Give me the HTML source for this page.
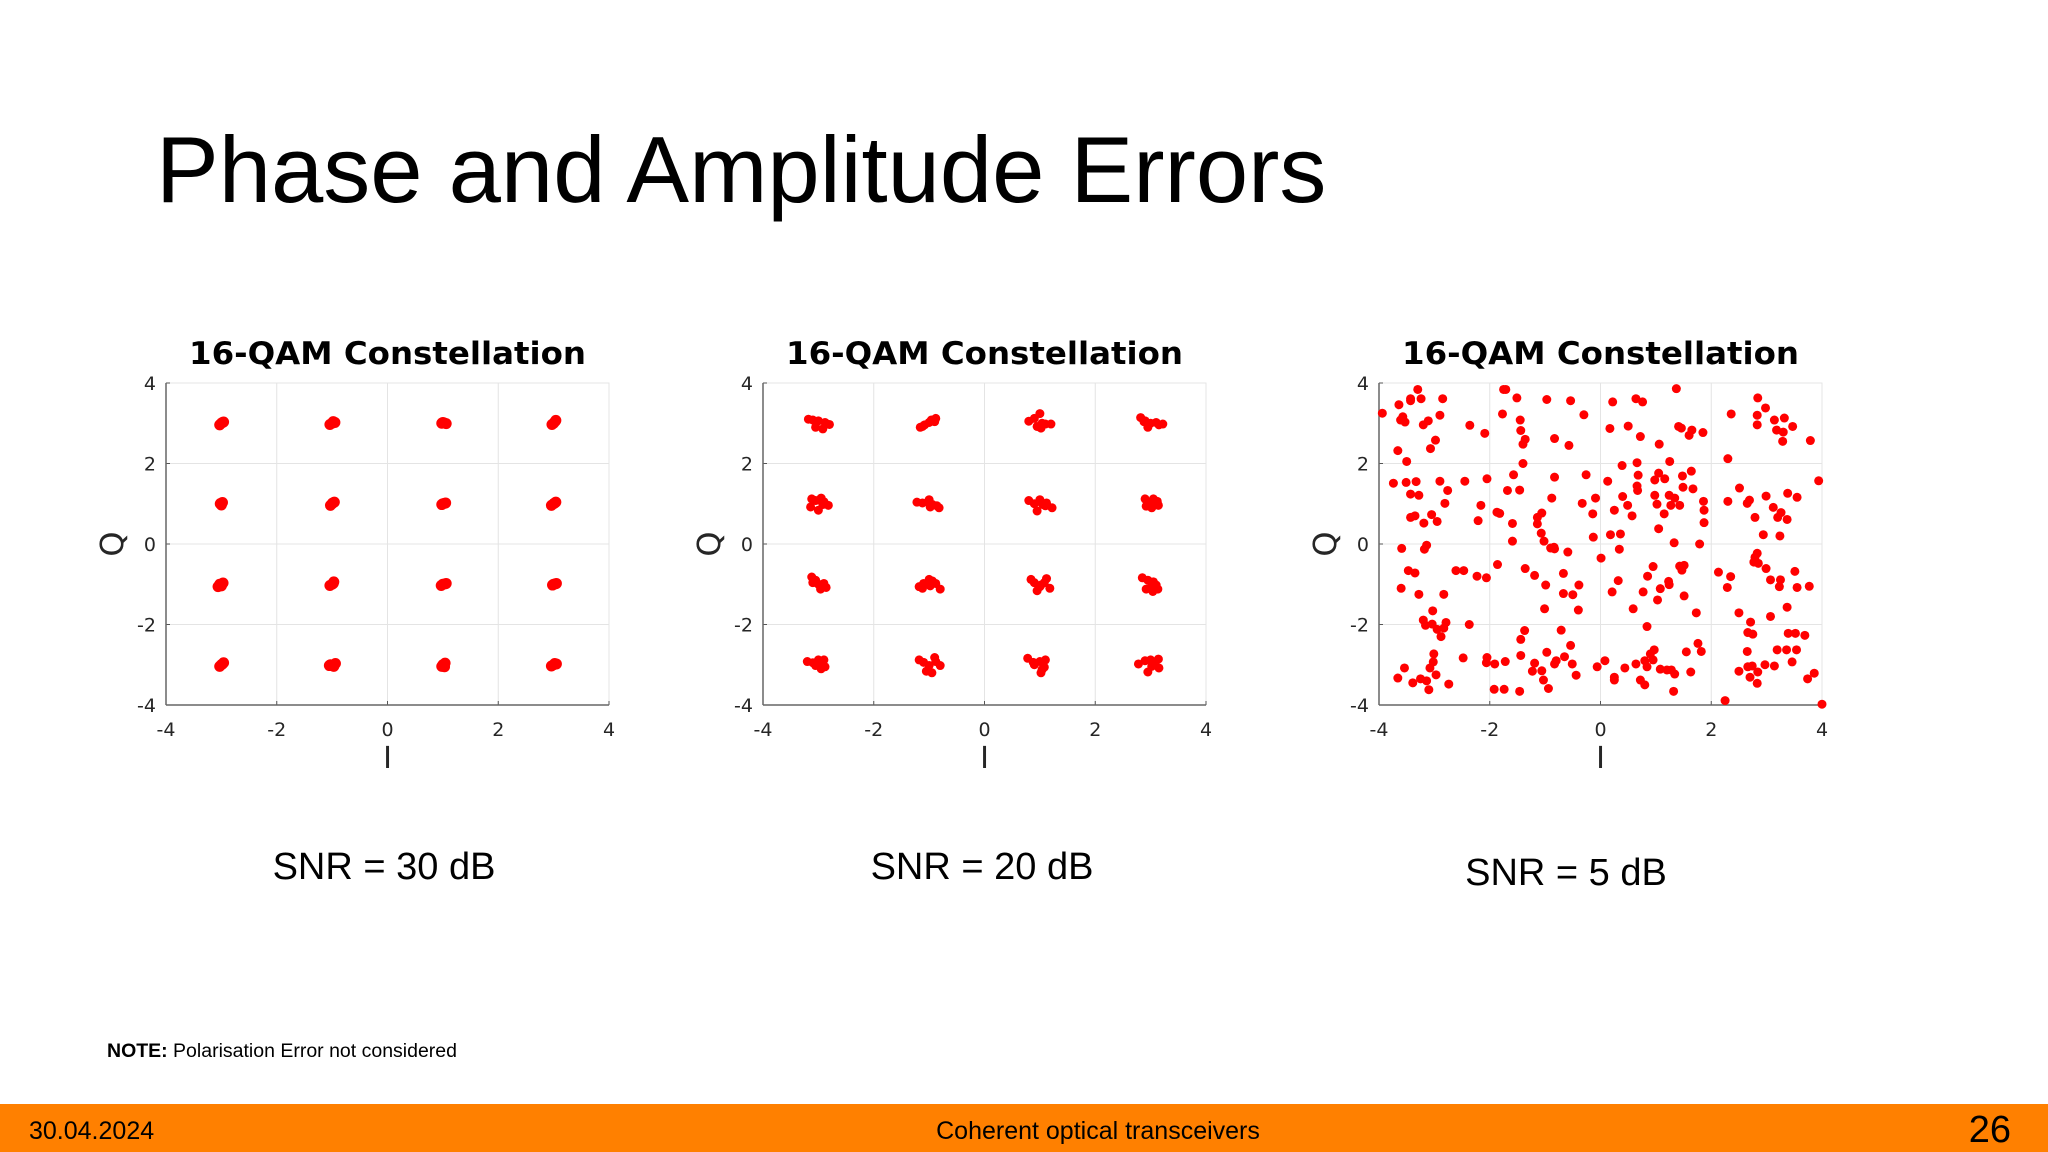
<!DOCTYPE html>
<html><head><meta charset="utf-8"><style>
html,body{margin:0;padding:0;background:#fff;}
svg{display:block;}
</style></head><body>
<svg id="page" width="2048" height="1152" viewBox="0 0 2048 1152" xmlns="http://www.w3.org/2000/svg">
<rect x="0" y="0" width="2048" height="1152" fill="#fff"/>
<text x="156" y="202" font-family="Liberation Sans, sans-serif" font-size="94" fill="#000">Phase and Amplitude Errors</text>
<g id="charts"></g>
<text x="384" y="879" text-anchor="middle" font-family="Liberation Sans, sans-serif" font-size="38" fill="#000">SNR = 30 dB</text>
<text x="982" y="879" text-anchor="middle" font-family="Liberation Sans, sans-serif" font-size="38" fill="#000">SNR = 20 dB</text>
<text x="1566" y="885" text-anchor="middle" font-family="Liberation Sans, sans-serif" font-size="38" fill="#000">SNR = 5 dB</text>
<text x="107" y="1057" font-family="Liberation Sans, sans-serif" font-size="19" fill="#000" textLength="350" lengthAdjust="spacingAndGlyphs"><tspan font-weight="bold">NOTE:</tspan>  Polarisation Error not considered</text>
<rect x="0" y="1104" width="2048" height="48" fill="#ff8000"/>
<text x="29" y="1139" font-family="Liberation Sans, sans-serif" font-size="25" fill="#000">30.04.2024</text>
<text x="1098" y="1139" text-anchor="middle" font-family="Liberation Sans, sans-serif" font-size="25" fill="#000">Coherent optical transceivers</text>
<text x="2011" y="1142" text-anchor="end" font-family="Liberation Sans, sans-serif" font-size="38" fill="#000">26</text>
</svg>
<script>
const ticks = [-4, -2, 0, 2, 4];
const tickLabels = ["-4", "-2", "0", "2", "4"];
const symI = [-3,-1,1,3,-3,-1,1,3,-3,-1,1,3,-3,-1,1,3];
const symQ = [3,3,3,3,1,1,1,1,-1,-1,-1,-1,-3,-3,-3,-3];
// SNR 30 dB: small offsets per cluster
const dI1 = [[0,0.04,-0.03,0.02],[0,0.05,-0.04,0.02],[0,0.06,0.02,-0.02],[0,0.03,-0.03,0.04],
 [-0.02,0.02,0,-0.01],[0,0.04,-0.03,0.01],[0,0.05,-0.02,0.03],[0,0.04,-0.04,0.02],
 [-0.03,0.03,0,-0.06],[0,0.03,-0.04,0.02],[0,0.06,-0.03,0.04],[0,0.05,-0.02,0.03],
 [0,0.04,-0.03,0.02],[-0.03,0.06,0.03,-0.05],[0,0.04,-0.02,0.03],[0,0.05,-0.04,0.02]];
const dQ1 = [[0,0.03,-0.04,0.02],[0,0.02,-0.03,0.04],[0.02,-0.01,0.01,0],[0,0.05,-0.03,0.07],
 [0,0.03,-0.03,0.01],[0,0.04,-0.04,0.02],[0,0.02,-0.02,0.01],[0,0.04,-0.04,0.02],
 [0,0.03,-0.04,-0.06],[0,0.06,-0.03,0.02],[0,0.02,-0.03,0.01],[0,0.02,-0.02,0.01],
 [0,0.05,-0.04,0.02],[0,0.03,-0.04,-0.02],[0,0.04,-0.04,-0.05],[0,0.02,-0.03,0.03]];
// SNR 20 dB offsets
const dI2 = [[-0.18,-0.1,0,0.12,0.2,-0.05,0.08,0.15],[-0.16,-0.08,0,0.06,0.12,-0.12,0.04,0.1],[-0.2,-0.1,0,0.04,0.1,0.2,0.02,-0.05],[-0.18,-0.1,0,0.1,0.22,-0.05,0.15,-0.12],
 [-0.12,-0.05,0.05,0.1,0.18,-0.14,0,0.08],[-0.22,-0.12,0,0.06,0.14,0.18,0.02,-0.02],[-0.2,-0.1,0,0.1,0.22,0.05,-0.05,0.12],[-0.1,-0.05,0.05,0.12,0.14,-0.08,0.02,0.08],
 [-0.12,-0.05,0,0.08,0.14,0.1,-0.1,0.04],[-0.18,-0.1,0,0.06,0.12,0.2,-0.12,0.02],[-0.16,-0.1,0,0.12,0.18,0.02,-0.05,0.08],[-0.15,-0.05,0.05,0.1,0.13,-0.08,0.02,0.04],
 [-0.2,-0.1,0,0.1,0.12,0.05,-0.05,0.08],[-0.18,-0.1,0,0.1,0.2,0.05,-0.05,0.12],[-0.22,-0.12,0,0.08,0.1,0.02,-0.1,0.04],[-0.22,-0.1,0,0.08,0.14,0.15,-0.05,0.02]];
const dQ2 = [[0.1,0.08,0.06,0.02,-0.03,-0.1,-0.14,-0.02],[-0.1,-0.04,0.02,0.06,0.12,-0.08,0.08,0.04],[0.05,0.12,0.24,0,-0.02,-0.02,-0.12,-0.08],[0.14,0.06,0,0.02,-0.02,-0.1,-0.04,0.04],
 [0.12,0.08,0.14,0.05,-0.04,-0.08,-0.16,-0.02],[0.04,0.02,0.1,-0.02,-0.05,-0.1,-0.08,0.04],[0.08,0,0.1,-0.05,-0.1,-0.02,-0.18,0.02],[0.12,0.04,0.12,0.06,-0.04,-0.06,-0.1,0.02],
 [0.18,0.1,0,-0.04,-0.08,0.02,0.04,-0.12],[-0.06,0.02,0.12,0.08,0.02,-0.12,-0.1,-0.04],[0.12,0.04,-0.06,0.14,-0.1,-0.02,-0.16,0.04],[0.16,0.1,0.06,-0.02,-0.12,-0.12,0,-0.18],
 [0.08,0.05,0.12,0.12,-0.05,-0.1,-0.02,-0.04],[0.12,0.06,-0.02,0.18,-0.02,-0.2,-0.16,0.08],[0.16,0.06,0.08,-0.06,0.12,-0.2,0,-0.12],[0.02,0.1,0.12,0.02,0.14,-0.08,-0.18,-0.04]];
// SNR 5 dB: points
const I3 = [-3.94,-3.64,-3.57,-3.61,-3.53,-3.43,-3.43,-3.30,-3.24,-3.20,-3.11,-2.90,-2.85,-2.98,-3.07,-3.66,-3.50,-3.74,-3.51,-3.33,-3.43,-3.28,-2.90,-2.76,-2.81,-3.43,-3.35,-3.19,-3.05,-2.95,-3.14,-3.18,-3.59,-3.47,-3.35,-3.60,-3.28,-2.83,-3.03,-3.20,-3.16,-3.04,-2.95,-2.88,-2.83,-2.79,-3.01,-3.02,-3.08,-2.97,-3.54,-3.66,-3.39,-3.25,-3.14,-3.10,-2.74,-2.48,-2.37,-2.61,-2.47,-2.23,-2.06,-1.86,-2.36,-2.09,-2.45,-2.05,-2.16,-2.21,-1.87,-1.82,-1.75,-1.71,-1.77,-1.51,-1.45,-1.44,-1.36,-1.40,-1.40,-1.57,-1.68,-1.46,-1.59,-1.59,-1.14,-1.14,-1.06,-1.07,-1.02,-0.90,-0.84,-0.83,-0.88,-0.83,-0.83,-0.97,-0.54,-0.57,-0.30,-0.26,-0.33,-0.09,-0.14,-0.13,-0.59,-1.36,-1.19,-0.99,-0.67,-0.67,-0.50,-0.39,-0.40,-1.01,-1.37,-1.44,-1.44,-0.71,-0.54,-0.97,-0.80,-0.65,-0.51,-0.44,-0.83,-1.19,-1.23,-1.06,-1.03,-0.94,-1.46,-1.74,-1.92,-1.91,-2.05,-2.06,-1.72,-0.06,0.08,0.25,0.25,0.44,0.64,0.72,0.80,0.80,0.84,0.90,0.97,0.95,1.08,1.20,1.28,1.34,1.32,1.63,1.55,1.76,1.82,1.73,1.51,1.43,1.51,1.47,1.23,1.24,1.08,1.03,0.95,0.85,0.77,0.84,0.59,0.32,0.21,0.34,0.01,0.18,0.36,0.25,0.40,0.49,0.57,0.13,0.39,0.17,0.22,0.50,0.64,0.76,0.72,0.66,0.68,0.66,0.67,0.98,1.05,1.16,0.98,1.02,1.24,1.27,1.34,1.43,1.15,1.05,1.33,1.25,1.06,1.37,1.41,1.46,1.60,1.65,1.85,1.48,1.64,1.49,1.67,1.86,1.87,1.87,1.79,2.13,2.35,2.29,2.50,2.71,2.66,2.75,2.65,2.50,2.66,2.70,2.74,2.84,2.83,2.97,3.14,3.19,3.36,3.46,3.54,3.39,3.52,3.69,3.07,3.37,3.74,3.86,4.00,2.25,2.83,2.79,2.77,2.85,2.99,3.07,3.25,3.23,3.51,3.55,3.77,3.94,3.79,2.36,2.30,2.84,2.98,2.83,2.83,3.14,3.32,3.18,3.30,3.29,3.47,2.51,2.65,2.69,2.30,2.99,2.79,3.12,3.20,3.26,3.37,3.38,3.55,2.94,3.24];
const Q3 = [3.25,3.46,3.16,3.08,3.03,3.56,3.61,3.84,3.61,2.96,3.06,3.20,3.61,2.58,2.37,2.32,2.05,1.51,1.53,1.55,1.24,1.21,1.56,1.33,1.01,0.66,0.70,0.52,0.73,0.56,-0.03,-0.13,-0.11,-0.66,-0.72,-1.10,-1.25,-1.25,-1.66,-1.89,-2.02,-1.99,-2.12,-2.30,-2.09,-1.95,-2.73,-2.93,-3.08,-3.25,-3.08,-3.33,-3.45,-3.35,-3.40,-3.62,-3.48,-2.83,-2.00,-0.66,-0.66,-0.80,-0.84,-0.51,2.95,2.75,1.56,1.62,0.96,0.58,0.79,0.76,3.84,3.84,3.23,3.63,3.08,2.82,2.60,2.48,2.00,1.72,1.33,1.34,0.51,0.07,0.66,0.50,0.77,0.27,0.07,-0.10,-0.08,-0.12,1.14,1.66,2.62,3.59,3.56,2.45,3.21,1.72,1.01,1.14,0.75,0.17,-0.20,-0.61,-0.78,-1.02,-0.73,-1.23,-1.26,-1.02,-1.64,-1.61,-2.15,-2.37,-2.77,-2.14,-2.52,-2.69,-2.90,-2.80,-2.98,-3.26,-2.98,-2.96,-3.16,-3.15,-3.38,-3.59,-3.66,-3.61,-3.61,-2.98,-2.82,-2.95,-2.92,-3.05,-2.90,-3.31,-3.38,-3.08,-2.98,-3.38,-3.50,-2.90,-3.05,-2.73,-2.63,-2.88,-3.11,-3.13,-3.13,-3.23,-3.66,-3.18,-2.68,-2.47,-2.67,-1.71,-1.29,-0.55,-0.53,-0.65,-0.93,-1.01,-1.11,-1.39,-0.56,-0.80,-1.19,-2.05,-1.61,-0.91,-1.19,-0.13,-0.35,0.23,0.25,0.84,1.18,0.96,0.70,1.56,1.95,2.87,3.53,2.93,3.61,3.53,2.67,2.02,1.71,1.44,1.33,1.59,1.76,1.62,1.21,0.99,1.21,0.96,1.14,0.96,0.75,0.38,0.03,2.05,2.48,3.86,2.92,2.88,2.70,2.83,2.77,1.69,1.81,1.41,1.37,1.06,0.84,0.53,0.00,-0.70,-0.81,-1.08,-1.71,-1.94,-2.20,-2.24,-2.67,-3.16,-3.05,-3.31,-3.03,-3.18,-3.46,-3.00,-3.03,-2.63,-2.63,-2.93,-2.63,-2.22,-2.22,-2.27,-1.80,-1.57,-3.35,-3.21,-3.98,-3.89,-0.23,-0.33,-0.45,-0.48,-0.61,-0.89,-0.89,-1.06,-0.68,-1.08,-1.05,1.57,2.57,3.23,2.12,3.63,3.38,3.20,2.96,3.08,3.13,2.83,2.78,2.55,2.92,1.39,1.01,1.09,1.06,1.19,0.66,0.91,0.66,0.78,0.61,1.26,1.16,0.23,0.20];

const NS = "http://www.w3.org/2000/svg";
const root = document.getElementById('charts');
function mk(tag, attrs, parent) {
  const e = document.createElementNS(NS, tag);
  for (const k in attrs) e.setAttribute(k, attrs[k]);
  parent.appendChild(e);
  return e;
}
const Y0 = 383, H = 322, W = 443;
function drawChart(x0, name, ptsI, ptsQ, r) {
  const g = mk('g', {}, root);
  
  
  const sx = v => x0 + (v + 4) / 8 * W;
  const sy = v => Y0 + (4 - v) / 8 * H;
  mk('rect', {x: x0, y: Y0, width: W, height: H, fill: '#fff', stroke: '#e6e6e6', 'stroke-width': 1}, g);
  ticks.forEach((t, i) => {
    const gx = mk('line', {x1: sx(t), x2: sx(t), y1: Y0, y2: Y0 + H, stroke: '#e4e4e4', 'stroke-width': 1}, g);
    
    
    const gy = mk('line', {x1: x0, x2: x0 + W, y1: sy(t), y2: sy(t), stroke: '#e4e4e4', 'stroke-width': 1}, g);
    
    
    const tx = mk('text', {x: sx(t), y: Y0 + H + 31, 'text-anchor': 'middle', 'font-family': 'DejaVu Sans, sans-serif', 'font-size': 19, fill: '#262626'}, g);
    tx.textContent = tickLabels[i];
    
    
    const ty = mk('text', {x: x0 - 10, y: sy(t) + 7, 'text-anchor': 'end', 'font-family': 'DejaVu Sans, sans-serif', 'font-size': 19, fill: '#262626'}, g);
    ty.textContent = tickLabels[i];
    
    
    mk('line', {x1: sx(t), x2: sx(t), y1: Y0 + H, y2: Y0 + H - 4, stroke: '#555'}, g);
    mk('line', {x1: x0, x2: x0 + 4, y1: sy(t), y2: sy(t), stroke: '#555'}, g);
  });
  mk('line', {x1: x0, x2: x0, y1: Y0, y2: Y0 + H, stroke: '#666', 'stroke-width': 1.5}, g);
  mk('line', {x1: x0, x2: x0 + W, y1: Y0 + H, y2: Y0 + H, stroke: '#666', 'stroke-width': 1.5}, g);
  const title = mk('text', {x: x0 + W / 2, y: Y0 - 19, 'text-anchor': 'middle', 'font-family': 'DejaVu Sans, sans-serif', 'font-weight': 'bold', 'font-size': 31, fill: '#000', textLength: 397, lengthAdjust: 'spacingAndGlyphs'}, g);
  title.textContent = '16-QAM Constellation';
  
  
  const xl = mk('text', {x: x0 + W / 2, y: Y0 + H + 63, 'text-anchor': 'middle', 'font-family': 'DejaVu Sans, sans-serif', 'font-size': 30, fill: '#262626'}, g);
  xl.textContent = 'I';
  
  
  const yl = mk('text', {x: 0, y: 0, transform: `translate(${x0 - 43},${Y0 + H / 2}) rotate(-90)`, 'text-anchor': 'middle', 'font-family': 'DejaVu Sans, sans-serif', 'font-size': 32, fill: '#262626'}, g);
  yl.textContent = 'Q';
  
  
  for (let k = 0; k < ptsI.length; k++) {
    const c = mk('circle', {cx: sx(ptsI[k]), cy: sy(ptsQ[k]), r: r, fill: '#ff0000'}, g);
    
    
  }
}
function clusterPoints(dI, dQ) {
  const a = [], b = [];
  for (let s = 0; s < symI.length; s++) {
    for (let j = 0; j < dI[s].length; j++) { a.push(symI[s] + dI[s][j]); b.push(symQ[s] + dQ[s][j]); }
  }
  return [a, b];
}
const c1 = clusterPoints(dI1, dQ1);
const c2 = clusterPoints(dI2, dQ2);
drawChart(166, 'chart-snr-30', c1[0], c1[1], 5.5);
drawChart(763, 'chart-snr-20', c2[0], c2[1], 4.5);
drawChart(1379, 'chart-snr-5', I3, Q3, 4.5);
</script>
</body></html>
